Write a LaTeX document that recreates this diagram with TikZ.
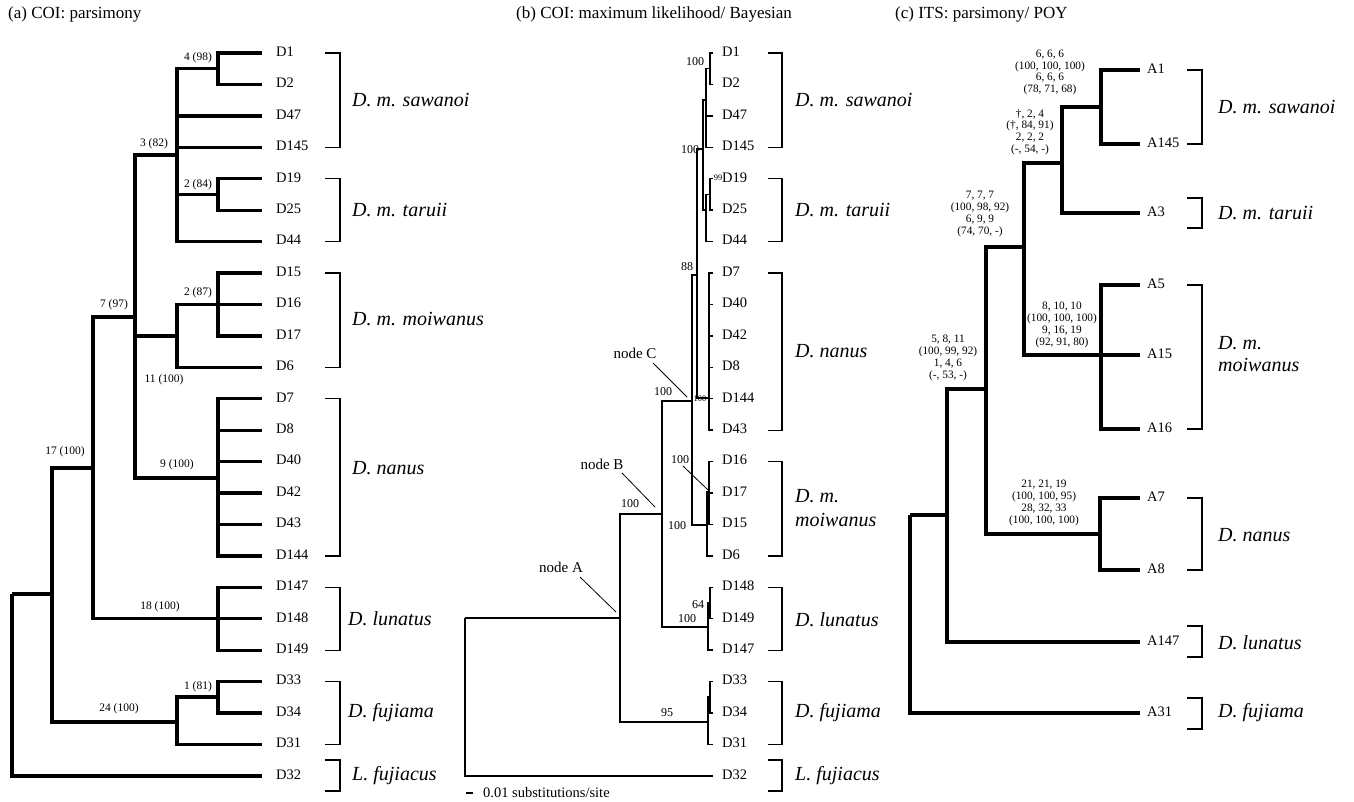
\documentclass[tikz,border=0pt]{standalone}
\usepackage{fontspec}
\setmainfont{Liberation Serif}
\tikzset{
  thk/.style={line width=3.4pt, line join=miter, line cap=butt},
  thn/.style={line width=1.5pt, line join=miter},
  brk/.style={line width=1.3pt, line join=miter},
  leaflab/.style={anchor=west, inner sep=0pt, text height=0.66em, text depth=0pt, font=\fontsize{14.5}{17}\selectfont},
  splab/.style={anchor=west, inner sep=0pt, align=left, font=\fontsize{20}{24}\selectfont\itshape},
  supa/.style={inner sep=0pt, font=\fontsize{11.5}{12}\selectfont},
  supb/.style={inner sep=0pt, font=\fontsize{12}{13}\selectfont},
  supsm/.style={inner sep=0pt, font=\fontsize{8.5}{9}\selectfont},
  supc/.style={inner sep=0pt, align=center, font=\fontsize{11.3}{11.8}\selectfont},
  nodelab/.style={inner sep=0pt, font=\fontsize{15}{17}\selectfont},
  ttl/.style={anchor=west, inner sep=0pt, font=\fontsize{17}{20}\selectfont},
  leader/.style={line width=0.8pt},
}
\newcommand\lf[5]{\coordinate (#1) at (#2,#3); \node[leaflab] (#1l) at (#4,#3) {#5};}
\newcommand\brkt[4]{\draw[brk] (#1,#3) -- (#2,#3) -- (#2,#4) -- (#1,#4);}
\begin{document}
\begin{tikzpicture}[x=1pt,y=-1pt]
\useasboundingbox (0,0) rectangle (1354,801);
% titles
\node[ttl] (ta) at (8,14) {(a) COI: parsimony};
\node[ttl] (tb) at (516,14) {(b) COI: maximum likelihood/ Bayesian};
\node[ttl] (tc) at (895,14) {(c) ITS: parsimony/ POY};

% ================= panel (a) =================
\lf{aD1}{262}{53}{276}{D1}
\lf{aD2}{262}{84.4}{276}{D2}
\lf{aD47}{262}{115.9}{276}{D47}
\lf{aD145}{262}{147.3}{276}{D145}
\lf{aD19}{262}{178.7}{276}{D19}
\lf{aD25}{262}{210.2}{276}{D25}
\lf{aD44}{262}{241.6}{276}{D44}
\lf{aD15}{262}{273}{276}{D15}
\lf{aD16}{262}{304.4}{276}{D16}
\lf{aD17}{262}{335.9}{276}{D17}
\lf{aD6}{262}{367.3}{276}{D6}
\lf{aD7}{262}{398.7}{276}{D7}
\lf{aD8}{262}{430.2}{276}{D8}
\lf{aD40}{262}{461.6}{276}{D40}
\lf{aD42}{262}{493}{276}{D42}
\lf{aD43}{262}{524.4}{276}{D43}
\lf{aD144}{262}{555.9}{276}{D144}
\lf{aD147}{262}{587.3}{276}{D147}
\lf{aD148}{262}{618.7}{276}{D148}
\lf{aD149}{262}{650.2}{276}{D149}
\lf{aD33}{262}{681.6}{276}{D33}
\lf{aD34}{262}{713}{276}{D34}
\lf{aD31}{262}{744.5}{276}{D31}
\lf{aD32}{262}{775.9}{276}{D32}
\coordinate (a12) at (218,68.7);
\coordinate (a1925) at (218,194.5);
\coordinate (asaw) at (177,155);
\coordinate (a1517) at (218,304.4);
\coordinate (amoi) at (177,336);
\coordinate (anan) at (218,478);
\coordinate (a7) at (135,317);
\coordinate (alun) at (218,618.7);
\coordinate (a17) at (93,468);
\coordinate (a3334) at (218,697);
\coordinate (afuj) at (177,722);
\coordinate (a52) at (52,594);
\coordinate (aroot) at (12,594);
\draw[thk] (a12) |- (aD1) (a12) |- (aD2)
  (a1925) |- (aD19) (a1925) |- (aD25)
  (asaw) |- (a12) (asaw) |- (aD47) (asaw) |- (aD145) (asaw) |- (a1925) (asaw) |- (aD44)
  (a1517) |- (aD15) (a1517) |- (aD16) (a1517) |- (aD17)
  (amoi) |- (a1517) (amoi) |- (aD6)
  (anan) |- (aD7) (anan) |- (aD8) (anan) |- (aD40) (anan) |- (aD42) (anan) |- (aD43) (anan) |- (aD144)
  (a7) |- (asaw) (a7) |- (amoi) (a7) |- (anan)
  (alun) |- (aD147) (alun) |- (aD148) (alun) |- (aD149)
  (a17) |- (a7) (a17) |- (alun)
  (a3334) |- (aD33) (a3334) |- (aD34)
  (afuj) |- (a3334) (afuj) |- (aD31)
  (a52) |- (a17) (a52) |- (afuj)
  (aroot) |- (a52) (aroot) |- (aD32);
\node[supa] (sa1) at (198,58) {4 (98)};
\node[supa] (sa2) at (154,144) {3 (82)};
\node[supa] (sa3) at (198,185) {2 (84)};
\node[supa] (sa4) at (198,293) {2 (87)};
\node[supa] (sa5) at (114,305) {7 (97)};
\node[supa] (sa6) at (164,380) {11 (100)};
\node[supa] (sa7) at (177,465) {9 (100)};
\node[supa] (sa8) at (65,452) {17 (100)};
\node[supa] (sa9) at (160,607) {18 (100)};
\node[supa] (sa10) at (198,687) {1 (81)};
\node[supa] (sa11) at (119,709) {24 (100)};
\brkt{325}{340}{53}{147.3}
\brkt{325}{340}{178.7}{241.6}
\brkt{325}{340}{273}{367.3}
\brkt{325}{340}{398.7}{555.9}
\brkt{325}{340}{587.3}{650.2}
\brkt{325}{340}{681.6}{744.5}
\brkt{325}{340}{760}{791}
\node[splab] (ca1) at (352,100) {D. m. sawanoi};
\node[splab] (ca2) at (352,210) {D. m. taruii};
\node[splab] (ca3) at (352,319) {D. m. moiwanus};
\node[splab] (ca4) at (352,468) {D. nanus};
\node[splab] (ca5) at (348,619) {D. lunatus};
\node[splab] (ca6) at (348,713) {D. fujiama};
\node[splab] (ca7) at (352,776) {L. fujiacus};

% ================= panel (b) =================
\lf{bD1}{713}{53}{722}{D1}
\lf{bD2}{713}{84.4}{722}{D2}
\lf{bD47}{713}{115.9}{722}{D47}
\lf{bD145}{713}{147.3}{722}{D145}
\lf{bD19}{713}{178.7}{722}{D19}
\lf{bD25}{713}{210.2}{722}{D25}
\lf{bD44}{713}{241.6}{722}{D44}
\lf{bD7}{713}{273}{722}{D7}
\lf{bD40}{713}{304.4}{722}{D40}
\lf{bD42}{713}{335.9}{722}{D42}
\lf{bD8}{713}{367.3}{722}{D8}
\lf{bD144}{713}{398.7}{722}{D144}
\lf{bD43}{713}{430.2}{722}{D43}
\lf{bD16}{713}{461.6}{722}{D16}
\lf{bD17}{713}{493}{722}{D17}
\lf{bD15}{713}{524.4}{722}{D15}
\lf{bD6}{713}{555.9}{722}{D6}
\lf{bD148}{713}{587.3}{722}{D148}
\lf{bD149}{713}{618.7}{722}{D149}
\lf{bD147}{713}{650.2}{722}{D147}
\lf{bD33}{713}{681.6}{722}{D33}
\lf{bD34}{713}{713}{722}{D34}
\lf{bD31}{713}{744.5}{722}{D31}
\lf{bD32}{713}{775.9}{722}{D32}
\coordinate (broot) at (465,618);
\coordinate (bA) at (620,618);
\coordinate (bB) at (662,514);
\coordinate (bC) at (692,401);
\coordinate (b88) at (697,275);
\coordinate (bST) at (703,149);
\coordinate (bsaw) at (706,100);
\coordinate (b12) at (710,68.7);
\coordinate (btar) at (706,210);
\coordinate (b1925) at (710,194.5);
\coordinate (bnan) at (709,398);
\coordinate (bmoi) at (707,525);
\coordinate (b1615) at (709,492);
\coordinate (blun) at (708,627);
\coordinate (b148) at (710,603);
\coordinate (bfuj) at (708,722);
\coordinate (b3334) at (710,697);
\draw[thn] (broot) |- (bA) (broot) |- (bD32)
  (bA) |- (bB) (bA) |- (bfuj)
  (bB) |- (bC) (bB) |- (blun)
  (bC) |- (b88) (bC) |- (bmoi)
  (b88) |- (bST) (b88) |- (bnan)
  (bST) |- (bsaw) (bST) |- (btar)
  (bsaw) |- (b12) (bsaw) |- (bD47) (bsaw) |- (bD145)
  (b12) |- (bD1) (b12) |- (bD2)
  (btar) |- (b1925) (btar) |- (bD44)
  (b1925) |- (bD19) (b1925) |- (bD25)
  (bnan) |- (bD7) (bnan) |- (bD40) (bnan) |- (bD42) (bnan) |- (bD8) (bnan) |- (bD144) (bnan) |- (bD43)
  (bmoi) |- (b1615) (bmoi) |- (bD6)
  (b1615) |- (bD16) (b1615) |- (bD17) (b1615) |- (bD15)
  (blun) |- (b148) (blun) |- (bD147)
  (b148) |- (bD148) (b148) |- (bD149)
  (bfuj) |- (b3334) (bfuj) |- (bD31)
  (b3334) |- (bD33) (b3334) |- (bD34);
\node[supb] (sb1) at (695,62) {100};
\node[supb] (sb2) at (690,150) {100};
\node[supsm] (sb3) at (718,178) {99};
\node[supb] (sb4) at (687,267) {88};
\node[supb] (sb5) at (663,392) {100};
\node[supsm] (sb6) at (700,399) {100};
\node[supb] (sb7) at (680,460) {100};
\node[supb] (sb8) at (677,526) {100};
\node[supb] (sb9) at (630,504) {100};
\node[supb] (sb10) at (698,605) {64};
\node[supb] (sb11) at (687,619) {100};
\node[supb] (sb12) at (667,713) {95};
\node[nodelab] (nA) at (561,567) {node A};
\node[nodelab] (nB) at (602,464) {node B};
\node[nodelab] (nC) at (635,353) {node C};
\draw[leader] (580,577) -- (616,612);
\draw[leader] (622,473) -- (655,507);
\draw[leader] (653,363) -- (687,397);
\draw[leader] (683,466) -- (708,490);
\brkt{768}{782}{53}{147.3}
\brkt{768}{782}{178.7}{241.6}
\brkt{768}{782}{273}{430.2}
\brkt{768}{782}{461.6}{555.9}
\brkt{768}{782}{587.3}{650.2}
\brkt{768}{782}{681.6}{744.5}
\brkt{768}{782}{760}{791}
\node[splab] (cb1) at (795,100) {D. m. sawanoi};
\node[splab] (cb2) at (795,210) {D. m. taruii};
\node[splab] (cb3) at (795,351) {D. nanus};
\node[splab] (cb4) at (795,508) {D. m.\\moiwanus};
\node[splab] (cb5) at (795,620) {D. lunatus};
\node[splab] (cb6) at (795,713) {D. fujiama};
\node[splab] (cb7) at (795,776) {L. fujiacus};
\coordinate (sc1) at (466,793);
\coordinate (sc2) at (473,793);
\draw[brk] (sc1) -- (sc2);
\node[anchor=west, inner sep=0pt, font=\fontsize{14.5}{17}\selectfont] (scl) at (483,793) {0.01 substitutions/site};

% ================= panel (c) =================
\lf{cA1}{1140}{70}{1147}{A1}
\lf{cA145}{1140}{144}{1147}{A145}
\lf{cA3}{1140}{213}{1147}{A3}
\lf{cA5}{1140}{285}{1147}{A5}
\lf{cA15}{1140}{355}{1147}{A15}
\lf{cA16}{1140}{429}{1147}{A16}
\lf{cA7}{1140}{498}{1147}{A7}
\lf{cA8}{1140}{570}{1147}{A8}
\lf{cA147}{1140}{642}{1147}{A147}
\lf{cA31}{1140}{713}{1147}{A31}
\coordinate (csaw) at (1101,107);
\coordinate (cst) at (1062,163);
\coordinate (cmoi) at (1101,355);
\coordinate (c1024) at (1024,247);
\coordinate (cnan) at (1100,534);
\coordinate (c986) at (986,389);
\coordinate (c947) at (947,515);
\coordinate (croot) at (910,515);
\draw[thk] (csaw) |- (cA1) (csaw) |- (cA145)
  (cst) |- (csaw) (cst) |- (cA3)
  (cmoi) |- (cA5) (cmoi) |- (cA15) (cmoi) |- (cA16)
  (c1024) |- (cst) (c1024) |- (cmoi)
  (cnan) |- (cA7) (cnan) |- (cA8)
  (c986) |- (c1024) (c986) |- (cnan)
  (c947) |- (c986) (c947) |- (cA147)
  (croot) |- (c947) (croot) |- (cA31);
\node[supc] (sc_1) at (1050,72.5) {6, 6, 6\\(100, 100, 100)\\6, 6, 6\\(78, 71, 68)};
\node[supc] (sc_2) at (1030,132) {\dag, 2, 4\\(\dag, 84, 91)\\2, 2, 2\\(-, 54, -)};
\node[supc] (sc_3) at (980,214) {7, 7, 7\\(100, 98, 92)\\6, 9, 9\\(74, 70, -)};
\node[supc] (sc_4) at (1062,325) {8, 10, 10\\(100, 100, 100)\\9, 16, 19\\(92, 91, 80)};
\node[supc] (sc_5) at (948,358) {5, 8, 11\\(100, 99, 92)\\1, 4, 6\\(-, 53, -)};
\node[supc] (sc_6) at (1044,503) {21, 21, 19\\(100, 100, 95)\\28, 32, 33\\(100, 100, 100)};
\brkt{1187}{1202}{70}{144}
\brkt{1187}{1202}{198}{228}
\brkt{1187}{1202}{285}{429}
\brkt{1187}{1202}{498}{570}
\brkt{1187}{1202}{626}{657}
\brkt{1187}{1202}{698}{729}
\node[splab] (cc1) at (1218,107) {D. m. sawanoi};
\node[splab] (cc2) at (1218,213) {D. m. taruii};
\node[splab, font=\fontsize{20}{22}\selectfont\itshape] (cc3) at (1218,354) {D. m.\\moiwanus};
\node[splab] (cc4) at (1218,535) {D. nanus};
\node[splab] (cc5) at (1218,643) {D. lunatus};
\node[splab] (cc6) at (1218,713) {D. fujiama};
\end{tikzpicture}
\end{document}
